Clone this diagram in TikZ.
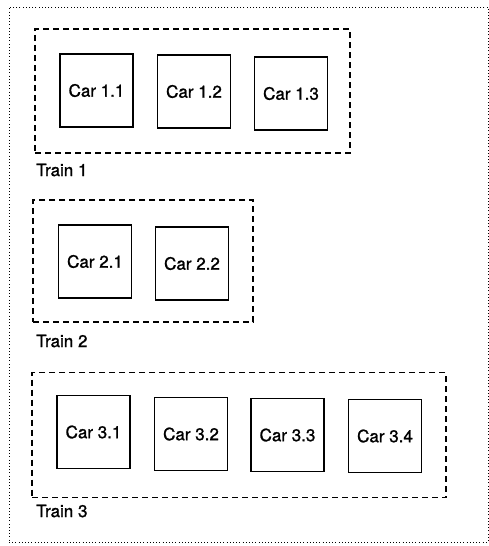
\documentclass[tikz,border=0pt]{standalone}
\usepackage{fontspec}
\setmainfont{TeX Gyre Heros}[FakeBold=1.2]
\begin{document}
\begin{tikzpicture}[x=1pt,y=-1pt,
  carbox/.style={draw, line width=1.2pt, minimum width=73pt, minimum height=73pt, inner sep=0pt, font=\fontsize{17}{20}\selectfont},
  trainbox/.style={draw, line width=1.2pt, dash pattern=on 6pt off 4pt, inner sep=0pt},
  trainlabel/.style={anchor=west, inner sep=0pt, font=\fontsize{17}{20}\selectfont},
  frame/.style={draw, line width=1pt, dash pattern=on 1pt off 2.2pt}]
\useasboundingbox (0,0) rectangle (489,546);
\node[frame, minimum width=479pt, minimum height=535pt, inner sep=0pt] (outer) at (248.5,274.5) {};
% Train 1
\node[trainbox, minimum width=315pt, minimum height=124pt] (t1) at (192.5,91) {};
\node[carbox] (c11) at (96.5,90.5) {Car 1.1};
\node[carbox] (c12) at (194,91.5) {Car 1.2};
\node[carbox] (c13) at (291,93.5) {Car 1.3};
\node[trainlabel] (l1) at (36,170) {Train 1};
% Train 2
\node[trainbox, minimum width=220pt, minimum height=122pt] (t2) at (143,261) {};
\node[carbox] (c21) at (95,261.5) {Car 2.1};
\node[carbox] (c22) at (192,263.5) {Car 2.2};
\node[trainlabel] (l2) at (36,341) {Train 2};
% Train 3
\node[trainbox, minimum width=414pt, minimum height=125pt] (t3) at (239,435) {};
\node[carbox] (c31) at (93.5,432) {Car 3.1};
\node[carbox] (c32) at (191,434) {Car 3.2};
\node[carbox] (c33) at (287.5,435) {Car 3.3};
\node[carbox] (c34) at (385,436) {Car 3.4};
\node[trainlabel] (l3) at (36,511) {Train 3};
\end{tikzpicture}
\end{document}
